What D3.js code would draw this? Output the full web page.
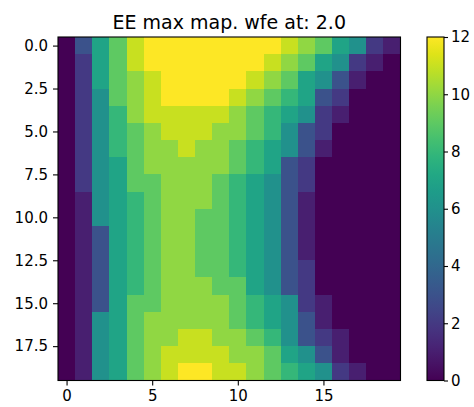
<!DOCTYPE html>
<html>
<head>
<meta charset="utf-8">
<script src="https://cdn.jsdelivr.net/npm/d3@7"></script>
<style>
  html, body { margin: 0; padding: 0; background: #fff; }
  svg { display: block; font-family: "DejaVu Sans", sans-serif; }
</style>
</head>
<body>
<svg id="chart" width="474" height="407"></svg>
<script>
// Encircled-energy maximum per grid cell (rows top to bottom, columns left to right)
const eeMax = [
  [0,3,7,9,11,12,12,12,12,12,12,12,12,11,10,9,7,6,2,1],
  [0,2,7,9,11,12,12,12,12,12,12,12,11,10,9,7,6,2,1,0],
  [0,2,7,9,10,11,12,12,12,12,12,11,10,9,7,6,3,1,0,0],
  [0,2,6,9,10,11,12,12,12,12,11,10,9,8,7,3,2,0,0,0],
  [0,2,6,8,10,11,11,11,11,11,10,9,8,7,6,2,1,0,0,0],
  [0,2,6,8,9,10,11,11,11,10,10,9,8,6,3,2,0,0,0,0],
  [0,2,6,8,9,10,10,11,10,10,9,8,7,6,3,1,0,0,0,0],
  [0,2,6,7,9,10,10,10,10,10,9,8,7,3,2,0,0,0,0,0],
  [0,2,6,7,9,9,10,10,10,9,8,7,6,3,2,0,0,0,0,0],
  [0,1,6,7,8,9,10,10,10,9,8,7,6,3,1,0,0,0,0,0],
  [0,1,6,7,8,9,10,10,9,9,8,7,6,3,1,0,0,0,0,0],
  [0,1,3,7,8,9,10,10,9,9,8,7,6,3,1,0,0,0,0,0],
  [0,1,3,7,8,9,10,10,9,9,8,7,6,3,1,0,0,0,0,0],
  [0,1,3,7,8,9,10,10,9,9,8,7,6,3,2,0,0,0,0,0],
  [0,1,3,7,8,9,10,10,10,9,9,7,6,3,2,0,0,0,0,0],
  [0,1,3,7,9,9,10,10,10,10,9,8,7,6,2,1,0,0,0,0],
  [0,1,6,7,9,10,10,10,10,10,9,8,7,6,3,1,0,0,0,0],
  [0,1,6,7,9,10,10,11,11,10,10,9,8,6,3,2,1,0,0,0],
  [0,1,6,7,9,10,11,11,11,11,10,10,9,7,6,3,1,0,0,0],
  [0,1,6,7,9,10,11,12,12,11,11,10,9,8,7,6,2,1,0,0]
];
const xTicks = [0, 5, 10, 15];
const yTicks = [0, 2.5, 5, 7.5, 10, 12.5, 15, 17.5];
const cbarTicks = [0, 2, 4, 6, 8, 10, 12];
const colorRange = [0, 12];
const titleText = "EE max map. wfe at: 2.0";

const svg = d3.select("#chart");
const nRows = eeMax.length, nCols = eeMax[0].length;

const plot = { left: 58, top: 37, right: 400.5, bottom: 380.5 };
const x = d3.scaleLinear().domain([-0.5, nCols - 0.5]).range([plot.left, plot.right]);
const y = d3.scaleLinear().domain([-0.5, nRows - 0.5]).range([plot.top, plot.bottom]);
const color = d3.scaleSequential(d3.interpolateViridis).domain(colorRange);

// heatmap cells
const cells = [];
eeMax.forEach((row, r) => row.forEach((v, c) => cells.push({ r, c, v })));
svg.append("g")
  .selectAll("rect")
  .data(cells)
  .join("rect")
  .attr("x", d => x(d.c - 0.5))
  .attr("y", d => y(d.r - 0.5))
  .attr("width", d => x(d.c + 0.5) - x(d.c - 0.5) + 0.5)
  .attr("height", d => y(d.r + 0.5) - y(d.r - 0.5) + 0.5)
  .attr("fill", d => color(d.v))
  .attr("shape-rendering", "crispEdges");

// frame
svg.append("rect")
  .attr("x", plot.left).attr("y", plot.top)
  .attr("width", plot.right - plot.left).attr("height", plot.bottom - plot.top)
  .attr("fill", "none").attr("stroke", "#000").attr("stroke-width", 1.1);

function styleAxis(g) {
  g.select(".domain").remove();
  g.selectAll(".tick line").attr("stroke", "#000").attr("stroke-width", 1.1);
  g.selectAll(".tick text").attr("fill", "#000").style("font-size", "15px")
    .style("font-family", "DejaVu Sans, sans-serif");
}

svg.append("g")
  .attr("transform", `translate(0,${plot.bottom})`)
  .call(d3.axisBottom(x).tickValues(xTicks).tickFormat(d3.format("d")).tickSizeOuter(0).tickSize(5).tickPadding(5))
  .call(styleAxis);

svg.append("g")
  .attr("transform", `translate(${plot.left},0)`)
  .call(d3.axisLeft(y).tickValues(yTicks).tickFormat(d3.format(".1f")).tickSizeOuter(0).tickSize(5).tickPadding(5))
  .call(styleAxis);

// title
svg.append("text")
  .attr("x", (plot.left + plot.right) / 2)
  .attr("y", 29)
  .attr("text-anchor", "middle")
  .style("font-size", "19px")
  .attr("fill", "#000")
  .text(titleText);

// colorbar
const cb = { left: 427, width: 17, top: plot.top, bottom: plot.bottom };
const cScale = d3.scaleLinear().domain(colorRange).range([cb.bottom, cb.top]);
const grad = svg.append("defs").append("linearGradient")
  .attr("id", "viridisGrad").attr("x1", 0).attr("y1", 1).attr("x2", 0).attr("y2", 0);
d3.range(0, 1.0001, 0.05).forEach(t => {
  grad.append("stop").attr("offset", t).attr("stop-color", d3.interpolateViridis(t));
});
svg.append("rect")
  .attr("x", cb.left).attr("y", cb.top)
  .attr("width", cb.width).attr("height", cb.bottom - cb.top)
  .attr("fill", "url(#viridisGrad)")
  .attr("stroke", "#000").attr("stroke-width", 1.1);

svg.append("g")
  .attr("transform", `translate(${cb.left + cb.width},0)`)
  .call(d3.axisRight(cScale).tickValues(cbarTicks).tickFormat(d3.format("d")).tickSizeOuter(0).tickSize(4).tickPadding(3))
  .call(styleAxis);
</script>
</body>
</html>
